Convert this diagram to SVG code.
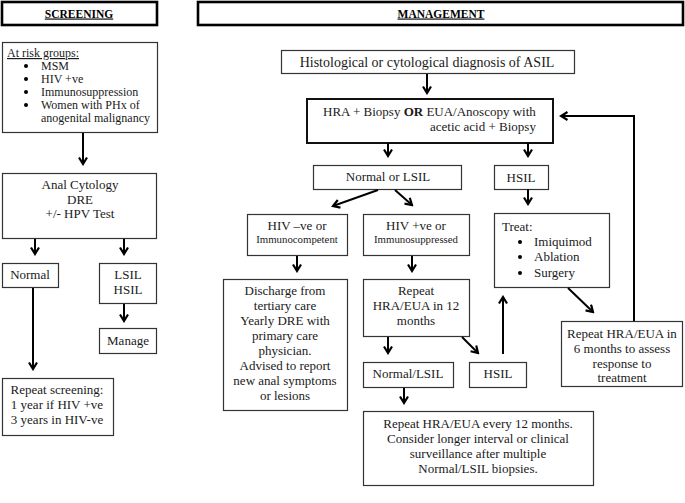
<svg xmlns="http://www.w3.org/2000/svg" width="685" height="503" viewBox="0 0 685 503">
<style>
  text { font-family: "Liberation Serif", "DejaVu Serif", serif; font-size: 13px; fill: #1a1a1a; }
  .c { text-anchor: middle; }
  .hd { font-weight: bold; font-size: 11.5px; text-decoration: underline; text-anchor: middle; fill: #000; }
  .sm { font-size: 10.8px; }
  .rk { font-size: 12px; }
  .box { fill: #fff; stroke: #333; stroke-width: 1.2; }
  .hbox { fill: #fff; stroke: #000; stroke-width: 2.6; }
  .thick { fill: #fff; stroke: #111; stroke-width: 2; }
  .ar { fill: none; stroke: #000; stroke-width: 2; marker-end: url(#ah); }
</style>
<defs>
  <marker id="ah" viewBox="0 0 10 10" refX="8" refY="5" markerWidth="10" markerHeight="10" orient="auto" markerUnits="userSpaceOnUse">
    <path d="M1.5,1 L8,5 L1.5,9" fill="none" stroke="#000" stroke-width="2.2"/>
  </marker>
</defs>
<rect width="685" height="503" fill="#fff"/>

<g id="screening-header"><rect class="hbox" x="2" y="2" width="155" height="23"/><text class="hd" x="79" y="17.5">SCREENING</text></g>
<g id="management-header"><rect class="hbox" x="198" y="2" width="485" height="23"/><text class="hd" x="441" y="17.5">MANAGEMENT</text></g>

<g id="risk-groups">
  <rect class="box" x="2.5" y="42.5" width="155" height="90"/>
  <text class="rk" x="7" y="57" style="text-decoration:underline">At risk groups:</text>
  <circle cx="26" cy="66" r="2"/><text class="rk" x="41" y="70">MSM</text>
  <circle cx="26" cy="79" r="2"/><text class="rk" x="41" y="83">HIV +ve</text>
  <circle cx="26" cy="92" r="2"/><text class="rk" x="41" y="96">Immunosuppression</text>
  <circle cx="26" cy="105" r="2"/><text class="rk" x="41" y="109">Women with PHx of</text>
  <text class="rk" x="41" y="122">anogenital malignancy</text>
</g>
<g id="anal-cytology">
  <rect class="box" x="2.5" y="173.5" width="154" height="65"/>
  <text class="c" x="80" y="189">Anal Cytology</text>
  <text class="c" x="80" y="204">DRE</text>
  <text class="c" x="80" y="218">+/- HPV Test</text>
</g>
<g id="normal-screen"><rect class="box" x="2.5" y="263.5" width="56" height="24"/><text class="c" x="30" y="279">Normal</text></g>
<g id="lsil-hsil-screen"><rect class="box" x="99.5" y="263.5" width="57" height="40"/><text class="c" x="128" y="279">LSIL</text><text class="c" x="128" y="294">HSIL</text></g>
<g id="manage"><rect class="box" x="99.5" y="328.5" width="57" height="25"/><text class="c" x="128" y="345">Manage</text></g>
<g id="repeat-screening">
  <rect class="box" x="2.5" y="378.5" width="111" height="57"/>
  <text class="c" x="57" y="394">Repeat screening:</text>
  <text class="c" x="57" y="409">1 year if HIV +ve</text>
  <text class="c" x="57" y="424">3 years in HIV-ve</text>
</g>

<g id="diagnosis"><rect class="box" x="281.5" y="50.5" width="293" height="23"/><text class="c" x="427" y="67" style="font-size:14px">Histological or cytological diagnosis of ASIL</text></g>
<g id="hra-biopsy">
  <rect class="thick" x="307" y="99" width="246" height="44"/>
  <text x="323" y="116">HRA + Biopsy  <tspan font-weight="bold">OR</tspan>  EUA/Anoscopy with</text>
  <text x="430" y="131">acetic acid + Biopsy</text>
</g>
<g id="normal-lsil"><rect class="box" x="313.5" y="165.5" width="148" height="24"/><text class="c" x="388" y="181">Normal or LSIL</text></g>
<g id="hsil-top"><rect class="box" x="494.5" y="165.5" width="54" height="24"/><text class="c" x="521" y="182">HSIL</text></g>
<g id="hiv-neg">
  <rect class="box" x="247.5" y="214.5" width="100" height="41"/>
  <text class="c" x="297" y="230">HIV –ve or</text>
  <text class="c sm" x="297" y="243">Immunocompetent</text>
</g>
<g id="hiv-pos">
  <rect class="box" x="363.5" y="214.5" width="106" height="41"/>
  <text class="c" x="416" y="230">HIV +ve or</text>
  <text class="c sm" x="416" y="243">Immunosuppressed</text>
</g>
<g id="treat">
  <rect class="box" x="494.5" y="213.5" width="115" height="74"/>
  <text x="502" y="231">Treat:</text>
  <circle cx="520" cy="242" r="2"/><text x="534" y="246">Imiquimod</text>
  <circle cx="520" cy="257" r="2"/><text x="534" y="261">Ablation</text>
  <circle cx="520" cy="273" r="2"/><text x="534" y="277">Surgery</text>
</g>
<g id="discharge">
  <rect class="box" x="223.5" y="279.5" width="124" height="131"/>
  <text class="c" x="285" y="295">Discharge from</text>
  <text class="c" x="285" y="310">tertiary care</text>
  <text class="c" x="285" y="325">Yearly DRE with</text>
  <text class="c" x="285" y="340">primary care</text>
  <text class="c" x="285" y="355">physician.</text>
  <text class="c" x="285" y="370">Advised to report</text>
  <text class="c" x="285" y="385">new anal symptoms</text>
  <text class="c" x="285" y="400">or lesions</text>
</g>
<g id="repeat-12">
  <rect class="box" x="363.5" y="279.5" width="106" height="57"/>
  <text class="c" x="416" y="295">Repeat</text>
  <text class="c" x="416" y="310">HRA/EUA in 12</text>
  <text class="c" x="416" y="325">months</text>
</g>
<g id="normal-lsil-2"><rect class="box" x="363.5" y="362.5" width="90" height="25"/><text class="c" x="408" y="378">Normal/LSIL</text></g>
<g id="hsil-2"><rect class="box" x="469.5" y="362.5" width="57" height="25"/><text class="c" x="498" y="378">HSIL</text></g>
<g id="repeat-6">
  <rect class="box" x="561.5" y="321.5" width="121" height="65"/>
  <text class="c" x="622" y="338">Repeat HRA/EUA in</text>
  <text class="c" x="622" y="353">6 months to assess</text>
  <text class="c" x="622" y="368">response to</text>
  <text class="c" x="622" y="382">treatment</text>
</g>
<g id="repeat-every-12">
  <rect class="box" x="363.5" y="411.5" width="230" height="74"/>
  <text class="c" x="478" y="428">Repeat HRA/EUA every 12 months.</text>
  <text class="c" x="478" y="443">Consider longer interval or clinical</text>
  <text class="c" x="478" y="458">surveillance after multiple</text>
  <text class="c" x="478" y="473">Normal/LSIL biopsies.</text>
</g>

<g id="connectors">
  <line class="ar" x1="83" y1="133" x2="83" y2="164"/>
  <line class="ar" x1="35" y1="239" x2="35" y2="254"/>
  <line class="ar" x1="124" y1="239" x2="124" y2="254"/>
  <line class="ar" x1="124" y1="304" x2="124" y2="321"/>
  <line class="ar" x1="33" y1="288" x2="33" y2="369"/>
  <line class="ar" x1="427" y1="74" x2="427" y2="93"/>
  <line class="ar" x1="388" y1="143" x2="388" y2="156"/>
  <line class="ar" x1="528" y1="143" x2="528" y2="156"/>
  <line class="ar" x1="528" y1="189" x2="528" y2="204"/>
  <line class="ar" x1="378" y1="190" x2="333" y2="206"/>
  <line class="ar" x1="395" y1="190" x2="412" y2="205"/>
  <line class="ar" x1="297" y1="256" x2="297" y2="271"/>
  <line class="ar" x1="412" y1="256" x2="412" y2="271"/>
  <line class="ar" x1="568" y1="288" x2="593" y2="312"/>
  <polyline class="ar" points="634,321 634,116 561,116"/>
  <line class="ar" x1="388" y1="337" x2="388" y2="353"/>
  <line class="ar" x1="462" y1="337" x2="478" y2="353"/>
  <line class="ar" x1="503" y1="354" x2="503" y2="297"/>
  <line class="ar" x1="404" y1="388" x2="404" y2="403"/>
</g>
</svg>
